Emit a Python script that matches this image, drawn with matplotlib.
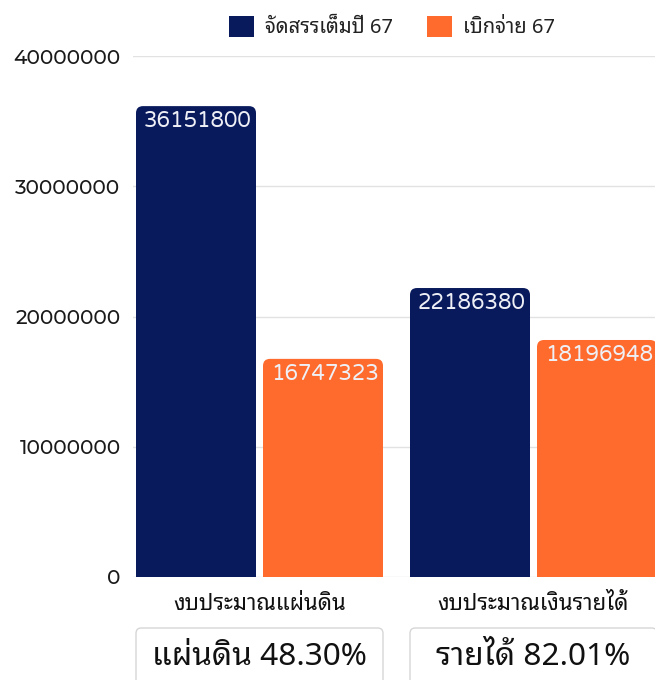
import matplotlib
matplotlib.use('Agg')
import matplotlib.pyplot as plt
from matplotlib.patches import FancyBboxPatch
import numpy as np

categories = ['งบประมาณแผ่นดิน', 'งบประมาณเงินรายได้']
series_names = ['จัดสรรเต็มปี 67', 'เบิกจ่าย 67']
allocated = [36151800, 22186380]
disbursed = [16747323, 18196948]
summary_labels = ['แผ่นดิน 48.30%', 'รายได้ 82.01%']
yticks = [0, 10000000, 20000000, 30000000, 40000000]

NAVY = '#08195c'
ORANGE = '#ff6b2d'
THAI = ['Noto Sans Thai Looped', 'Noto Sans', 'DejaVu Sans']
NUM = ['Montserrat Alternates', 'Noto Sans', 'DejaVu Sans']
LBL = ['Varela Round', 'Lato', 'DejaVu Sans']

W, H = 655, 680
fig = plt.figure(figsize=(W / 100, H / 100), dpi=100)
ax_l, ax_r, ax_t, ax_b = 133, 655, 56, 577
ax = fig.add_axes([ax_l / W, 1 - ax_b / H, (ax_r - ax_l) / W, (ax_b - ax_t) / H])

px_per_x = 274.0
bw = 120 / px_per_x
off = 127 / 2 / px_per_x
x = np.arange(len(categories))
xl = -off - bw / 2 - 3 / px_per_x
ax.set_xlim(xl, xl + (ax_r - ax_l) / px_per_x)
ax.set_ylim(0, 40000000)

b1 = ax.bar(x - off, allocated, bw, color=NAVY, label=series_names[0])
b2 = ax.bar(x + off, disbursed, bw, color=ORANGE, label=series_names[1])

ypp = 40000000 / (ax_b - ax_t)
aspect = ypp * px_per_x
rad = 7 / px_per_x
for bars in (b1, b2):
    for p in bars:
        p.set_visible(False)
        x0, w, h = p.get_x(), p.get_width(), p.get_height()
        fb = FancyBboxPatch((x0, -2000000), w, h + 2000000,
                            boxstyle=f'round,pad=0,rounding_size={rad}',
                            mutation_aspect=aspect, facecolor=p.get_facecolor(),
                            edgecolor='none', zorder=3, clip_on=True)
        ax.add_patch(fb)
        ax.text(x0 + w / 2 + 2 / px_per_x, h - 15 * ypp, f'{int(h)}', ha='center', va='center',
                color='#eef0f6', fontsize=15.5, family=LBL, zorder=4)

ax.set_yticks(yticks)
ax.set_yticklabels([str(v) for v in yticks], family=NUM, fontsize=14.5,
                   weight=500, color='#1a1a1a')
ax.tick_params(axis='y', length=0, pad=9)
ax.set_xticks([])
ax.grid(axis='y', color='#e2e2e2', linewidth=1)
ax.set_axisbelow(True)
for s in ax.spines.values():
    s.set_visible(False)

# category labels
for i, c in enumerate(categories):
    ax.annotate(c, xy=(x[i], 0), xycoords='data', xytext=(0, -19.5), textcoords='offset points',
                ha='center', va='center', fontsize=16, family=THAI, color='#111111',
                annotation_clip=False)

# summary boxes
for i, s in enumerate(summary_labels):
    cx = x[i]
    xp0 = ax.transData.transform((cx - off - bw / 2, 0))[0]
    xp1 = ax.transData.transform((cx + off + bw / 2, 0))[0]
    bx0 = xp0 / W
    bw_f = (min(xp1, W + 10) - xp0) / W
    box = FancyBboxPatch((bx0, 1 - 700 / H), bw_f, (700 - 628) / H,
                         boxstyle='round,pad=0,rounding_size=0.008',
                         transform=fig.transFigure, facecolor='white',
                         edgecolor='#d6d6d6', linewidth=1)
    fig.add_artist(box)
    fig.text((xp0 + xp1) / 2 / W, 1 - 657 / H, s, ha='center', va='center',
             fontsize=22.8, family=THAI, weight=500, color='#111111')

leg = fig.legend(handles=[b1, b2], labels=series_names, loc='center',
                 bbox_to_anchor=(392 / W, 1 - 27 / H), ncol=2, frameon=False,
                 handlelength=1.25, handleheight=1.25, handletextpad=0.55,
                 columnspacing=1.7, prop={'family': THAI, 'size': 14.5})
for h in leg.legend_handles:
    h.set_visible(True)
for t in leg.get_texts():
    t.set_color('#222222')

fig.savefig('out.png', dpi=100)
